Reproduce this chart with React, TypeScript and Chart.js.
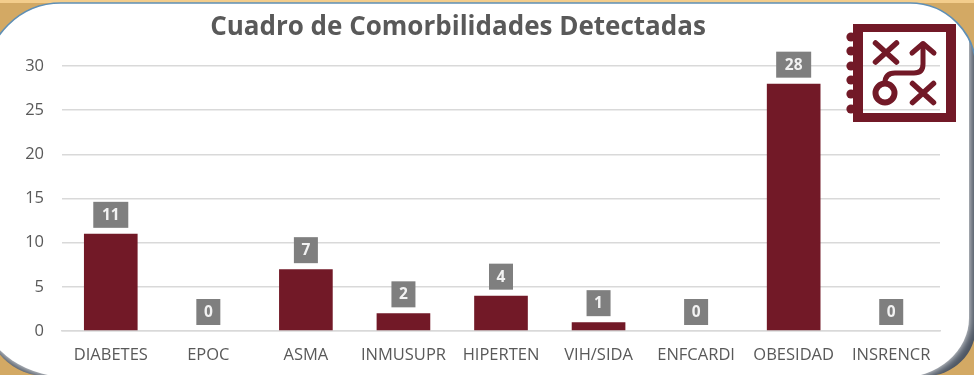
import React, { useEffect, useRef } from "react";
import { Chart, registerables } from "chart.js";

Chart.register(...registerables);

const categories = ["DIABETES", "EPOC", "ASMA", "INMUSUPR", "HIPERTEN", "VIH/SIDA", "ENFCARDI", "OBESIDAD", "INSRENCR"];
const counts = [11, 0, 7, 2, 4, 1, 0, 28, 0];
const titleText = "Cuadro de Comorbilidades Detectadas";
const MAROON = "#721927";
const FONT = '"Open Sans", "Noto Sans", sans-serif';

const outerPath = (c: any) => {
  c.beginPath();
  c.roundRect(-14, 3, 990, 373, [75, 66, 50, 60]);
};

const panelPlugin = {
  id: "panel",
  beforeDraw(chart: any) {
    const c = chart.ctx;
    if (chart.titleBlock) {
      chart.titleBlock.left = 0;
      chart.titleBlock.right = 916;
    }
    c.save();
    c.fillStyle = "#d3a964";
    c.fillRect(0, 0, 974, 375);
    c.fillStyle = "#f3cd8c";
    c.fillRect(0, 0, 974, 3);
    c.restore();

    c.save();
    outerPath(c);
    c.fillStyle = "#4d5663";
    c.fill();
    c.clip();
    c.beginPath();
    c.roundRect(-14, -60, 983, 438, [0, 0, { x: 70, y: 60 }, { x: 90, y: 60 }]);
    c.shadowColor = "#ffffff";
    c.shadowBlur = 8;
    c.fillStyle = "#ffffff";
    c.fill();
    c.shadowColor = "transparent";
    c.restore();

    c.save();
    const g = c.createLinearGradient(0, 0, 0, 80);
    g.addColorStop(0, "#5f8fb5");
    g.addColorStop(0.7, "#5f8fb5");
    g.addColorStop(1, "rgba(95,143,181,0)");
    outerPath(c);
    c.strokeStyle = g;
    c.lineWidth = 1.6;
    c.stroke();
    c.restore();
  },
};

const labelPlugin = {
  id: "valueBoxes",
  afterDatasetsDraw(chart: any) {
    const c = chart.ctx;
    const meta = chart.getDatasetMeta(0);
    c.save();
    c.font = `bold 15.5px ${FONT}`;
    c.textAlign = "center";
    c.textBaseline = "middle";
    meta.data.forEach((el: any, i: number) => {
      const text = String(counts[i]);
      const w = text.length > 1 ? 35 : 24;
      const h = 26;
      const bottom = el.y - 6;
      c.fillStyle = "#7f7f7f";
      c.fillRect(el.x - w / 2, bottom - h, w, h);
      c.fillStyle = "#f2f2f2";
      c.fillText(text, el.x, bottom - h / 2 + 0.5);
    });
    c.restore();
  },
};

const iconPlugin = {
  id: "icon",
  afterDraw(chart: any) {
    const c = chart.ctx;
    c.save();
    c.fillStyle = MAROON;
    c.beginPath();
    c.rect(853, 24, 103, 98);
    c.rect(863, 32, 83, 81);
    c.fill("evenodd");
    [37, 51, 66, 80, 94, 109].forEach((y) => {
      c.beginPath();
      c.arc(851, y, 4.6, 0, Math.PI * 2);
      c.fill();
    });
    c.strokeStyle = MAROON;
    c.lineCap = "round";
    c.lineJoin = "round";
    c.lineWidth = 5.5;
    const cross = (x: number, y: number) => {
      c.beginPath();
      c.moveTo(x - 10.5, y - 9.5);
      c.lineTo(x + 10.5, y + 9.5);
      c.moveTo(x + 10.5, y - 9.5);
      c.lineTo(x - 10.5, y + 9.5);
      c.stroke();
    };
    cross(886, 52.5);
    cross(923, 93);
    c.lineWidth = 6;
    c.beginPath();
    c.arc(885, 93, 9.5, 0, Math.PI * 2);
    c.stroke();
    c.lineWidth = 5;
    c.beginPath();
    c.moveTo(885, 83);
    c.quadraticCurveTo(885, 73, 895, 73);
    c.lineTo(914, 73);
    c.quadraticCurveTo(923, 73, 923, 64);
    c.lineTo(923, 44);
    c.stroke();
    c.beginPath();
    c.moveTo(912, 53);
    c.lineTo(923, 43.5);
    c.lineTo(934, 53);
    c.stroke();
    c.restore();
  },
};

export default function App() {
  const ref = useRef<HTMLCanvasElement>(null);
  useEffect(() => {
    const chart = new Chart(ref.current as HTMLCanvasElement, {
      type: "bar",
      data: {
        labels: categories,
        datasets: [{ data: counts, backgroundColor: MAROON, categoryPercentage: 1, barPercentage: 0.55 }],
      },
      plugins: [panelPlugin, labelPlugin, iconPlugin],
      options: {
        animation: false,
        responsive: false,
        layout: { padding: { top: 12, right: 34, bottom: 0, left: 0 } },
        plugins: {
          legend: { display: false },
          tooltip: { enabled: false },
          title: {
            display: true,
            text: titleText,
            color: "#595959",
            font: { family: FONT, size: 26, weight: "bold" },
            padding: { top: 0, bottom: 22.8 },
          },
        },
        scales: {
          x: {
            afterFit: (s: any) => { s.height = 44; },
            grid: { display: false, drawTicks: false },
            border: { color: "#d9d9d9", width: 1.5 },
            ticks: { color: "#595959", font: { family: FONT, size: 16.5 }, padding: 14, maxRotation: 0, autoSkip: false },
          },
          y: {
            afterFit: (s: any) => { s.width = 62; },
            min: 0,
            max: 30,
            grid: { color: "#d9d9d9", lineWidth: 1.5, drawTicks: false },
            border: { display: false },
            ticks: { stepSize: 5, color: "#595959", font: { family: FONT, size: 16.5 }, padding: 18 },
          },
        },
      },
    } as any);
    return () => chart.destroy();
  }, []);
  return (
    <div style={{ position: "absolute", left: 0, top: 0, width: 974, height: 375 }}>
      <canvas ref={ref} width={974} height={375} style={{ display: "block" }} />
    </div>
  );
}
